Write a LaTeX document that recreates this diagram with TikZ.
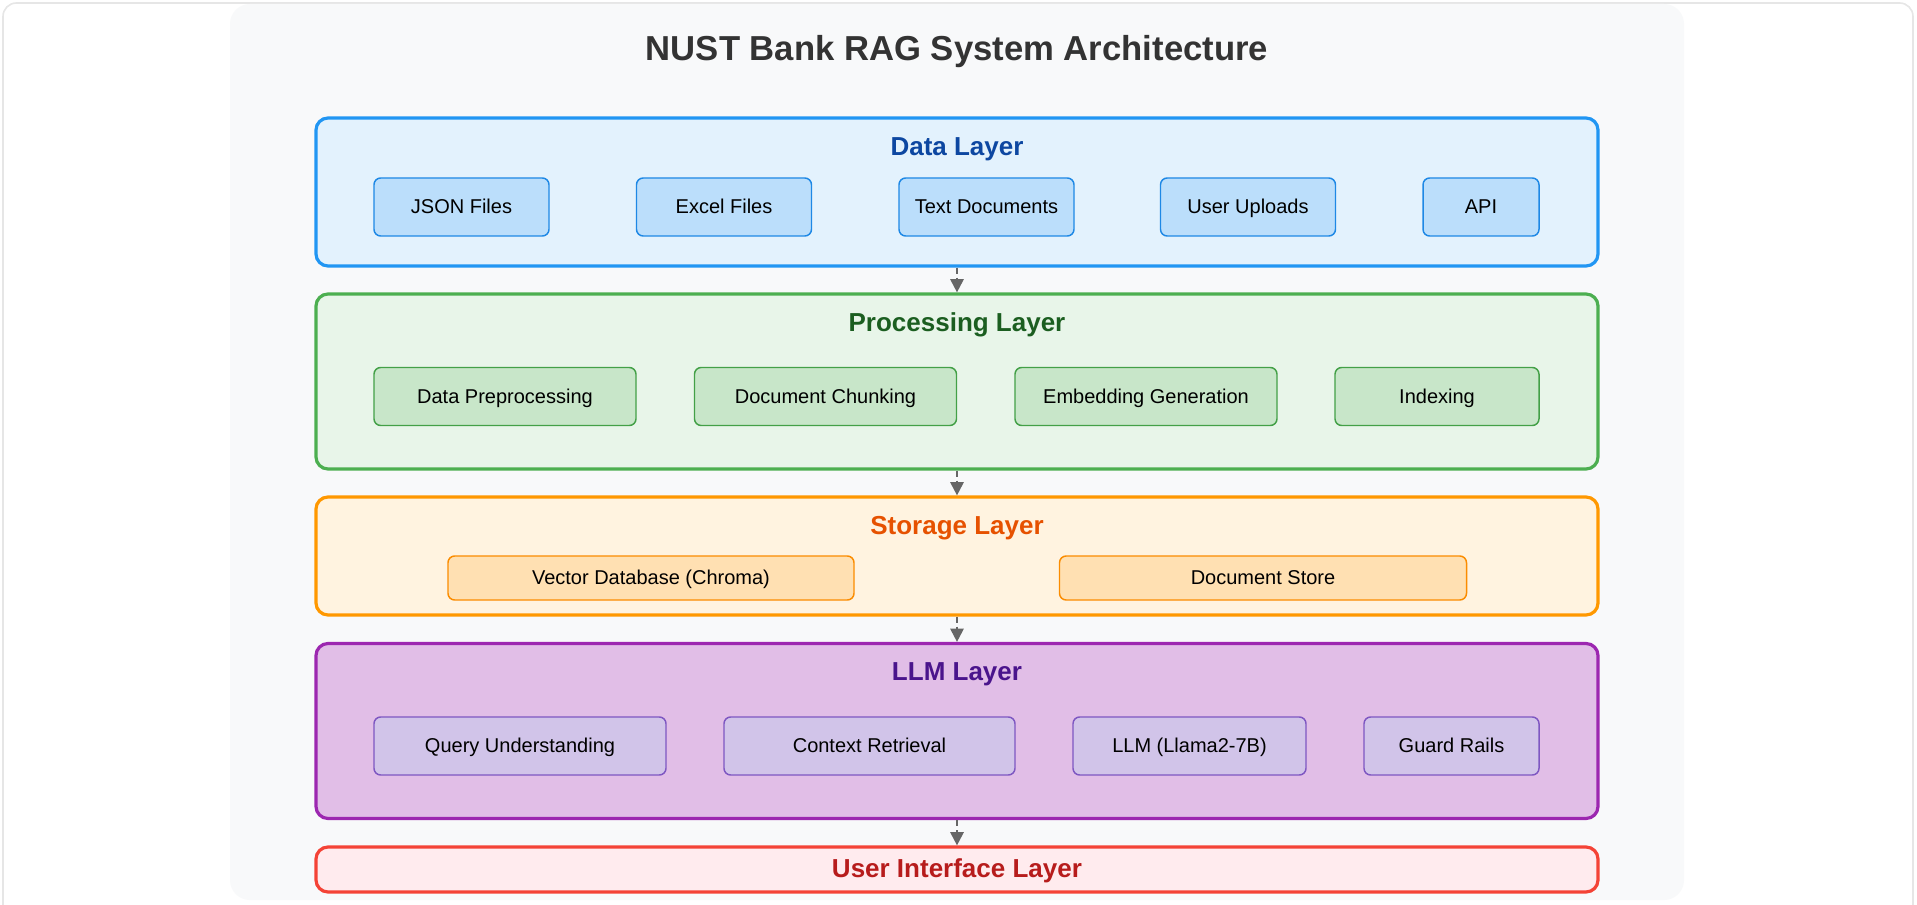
\documentclass[tikz,border=0pt]{standalone}
\usepackage{fontspec}
\setmainfont{Liberation Sans}
\usepackage{tikz}
\usetikzlibrary{arrows.meta}

\definecolor{cardline}{HTML}{E6E6E6}
\definecolor{panelbg}{HTML}{F8F9FA}
\definecolor{titlegray}{HTML}{333333}
\definecolor{flowgray}{HTML}{666666}
\definecolor{dataline}{HTML}{2196F3}
\definecolor{datafill}{HTML}{E3F2FD}
\definecolor{datatext}{HTML}{0D47A1}
\definecolor{databoxfill}{HTML}{BBDEFB}
\definecolor{databoxline}{HTML}{1E88E5}
\definecolor{procline}{HTML}{4CAF50}
\definecolor{procfill}{HTML}{E8F5E9}
\definecolor{proctext}{HTML}{1B5E20}
\definecolor{procboxfill}{HTML}{C8E6C9}
\definecolor{procboxline}{HTML}{43A047}
\definecolor{storeline}{HTML}{FF9800}
\definecolor{storefill}{HTML}{FFF3E0}
\definecolor{storetext}{HTML}{E65100}
\definecolor{storeboxfill}{HTML}{FFE0B2}
\definecolor{storeboxline}{HTML}{FB8C00}
\definecolor{llmline}{HTML}{9C27B0}
\definecolor{llmfill}{HTML}{E1BEE7}
\definecolor{llmtext}{HTML}{4A148C}
\definecolor{llmboxfill}{HTML}{D1C4E9}
\definecolor{llmboxline}{HTML}{7E57C2}
\definecolor{uiline}{HTML}{F44336}
\definecolor{uifill}{HTML}{FFEBEE}
\definecolor{uitext}{HTML}{B71C1C}

\def\px{0.75pt}

\begin{document}
\begin{tikzpicture}
[x=0.75pt,y=-0.75pt,%
  layer/.style={shape=rectangle,draw,line width=2.4pt,rounded corners=9pt,
    minimum width=1282*\px,inner sep=0pt},%
  layertitle/.style={anchor=base,font=\fontsize{19.5pt}{23pt}\selectfont\bfseries},%
  part/.style={shape=rectangle,draw,line width=1.1pt,rounded corners=5pt,inner sep=0pt,
    font=\fontsize{15pt}{18pt}\selectfont,text height=13.6pt,text depth=3.2pt},%
  flow/.style={draw=flowgray,line width=1.6pt,dash pattern=on 4.5pt off 3pt,
    -{Triangle[width=10pt,length=10pt,fill=flowgray]}}]
\useasboundingbox (0,0) rectangle (1917,905);
% card and panel
\draw[cardline,fill=white,line width=1.2pt,rounded corners=10pt] (3,3) rectangle (1913,930);
\fill[panelbg,rounded corners=15pt] (230,4) rectangle (1684,900);
\node[anchor=base,text=titlegray,font=\fontsize{26pt}{30pt}\selectfont\bfseries]
  (title) at (957,61) {NUST Bank RAG System Architecture};

% data layer
\node[layer,draw=dataline,fill=datafill,minimum height=148*\px] (data) at (957,192) {};
\node[layertitle,text=datatext] (datat) at (957,156) {Data Layer};
\node[part,draw=databoxline,fill=databoxfill,minimum width=175*\px,minimum height=58*\px] (json) at (461.5,207) {JSON Files};
\node[part,draw=databoxline,fill=databoxfill,minimum width=175*\px,minimum height=58*\px] (excel) at (724,207) {Excel Files};
\node[part,draw=databoxline,fill=databoxfill,minimum width=175*\px,minimum height=58*\px] (textdocs) at (986.5,207) {Text Documents};
\node[part,draw=databoxline,fill=databoxfill,minimum width=175*\px,minimum height=58*\px] (uploads) at (1248,207) {User Uploads};
\node[part,draw=databoxline,fill=databoxfill,minimum width=116*\px,minimum height=58*\px] (api) at (1481,207) {API};

% processing layer
\node[layer,draw=procline,fill=procfill,minimum height=175*\px] (proc) at (957,381.5) {};
\node[layertitle,text=proctext] (proct) at (957,331.5) {Processing Layer};
\node[part,draw=procboxline,fill=procboxfill,minimum width=262*\px,minimum height=58*\px] (prep) at (505,396.5) {Data Preprocessing};
\node[part,draw=procboxline,fill=procboxfill,minimum width=262*\px,minimum height=58*\px] (chunk) at (825.5,396.5) {Document Chunking};
\node[part,draw=procboxline,fill=procboxfill,minimum width=262*\px,minimum height=58*\px] (embed) at (1146,396.5) {Embedding Generation};
\node[part,draw=procboxline,fill=procboxfill,minimum width=204*\px,minimum height=58*\px] (index) at (1437,396.5) {Indexing};

% storage layer
\node[layer,draw=storeline,fill=storefill,minimum height=118*\px] (store) at (957,556) {};
\node[layertitle,text=storetext] (storet) at (957,534.5) {Storage Layer};
\node[part,draw=storeboxline,fill=storeboxfill,minimum width=406*\px,minimum height=44*\px] (vecdb) at (651,578) {Vector Database (Chroma)};
\node[part,draw=storeboxline,fill=storeboxfill,minimum width=407*\px,minimum height=44*\px] (docstore) at (1263,578) {Document Store};

% llm layer
\node[layer,draw=llmline,fill=llmfill,minimum height=175*\px] (llm) at (957,731) {};
\node[layertitle,text=llmtext] (llmt) at (957,680.5) {LLM Layer};
\node[part,draw=llmboxline,fill=llmboxfill,minimum width=292*\px,minimum height=58*\px] (query) at (520,746) {Query Understanding};
\node[part,draw=llmboxline,fill=llmboxfill,minimum width=291*\px,minimum height=58*\px] (context) at (869.5,746) {Context Retrieval};
\node[part,draw=llmboxline,fill=llmboxfill,minimum width=233*\px,minimum height=58*\px] (llama) at (1189.5,746) {LLM (Llama2-7B)};
\node[part,draw=llmboxline,fill=llmboxfill,minimum width=175*\px,minimum height=58*\px] (guard) at (1451.5,746) {Guard Rails};

% user interface layer
\node[layer,draw=uiline,fill=uifill,minimum height=45*\px] (ui) at (957,869.5) {};
\node[layertitle,text=uitext] (uit) at (957,877) {User Interface Layer};

\draw[flow] (data) -- (proc);
\draw[flow] (proc) -- (store);
\draw[flow] (store) -- (llm);
\draw[flow] (llm) -- (ui);
\end{tikzpicture}
\end{document}
